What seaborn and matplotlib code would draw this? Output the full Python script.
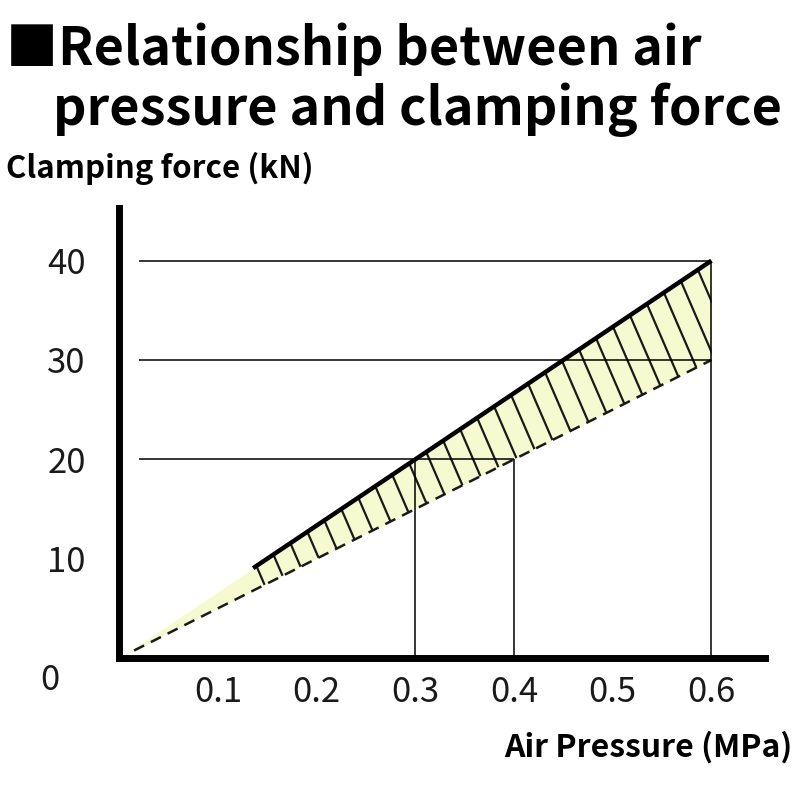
import numpy as np
import matplotlib
matplotlib.use("Agg")
import matplotlib.pyplot as plt
from matplotlib.collections import LineCollection
import seaborn as sns

# ---------------------------------------------
# data
# ---------------------------------------------
pressure = [0.0, 0.6]            # MPa
force_max = [0.0, 40.0]          # kN, upper edge of band
force_min = [0.0, 30.0]          # kN, lower edge of band
solid_from = 0.135               # upper line is drawn solid above this pressure

x_ticks = [0.1, 0.2, 0.3, 0.4, 0.5, 0.6]
x_labels = ["0.1", "0.2", "0.3", "0.4", "0.5", "0.6"]
y_ticks = [10, 20, 30, 40]
y_labels = ["10", "20", "30", "40"]

# guide lines: (value, start, end)
h_guides = [(40, 0.02, 0.6), (30, 0.02, 0.6), (20, 0.02, 0.4)]
v_guides = [(0.3, 0, 20), (0.4, 0, 20), (0.6, 0, 40)]

title_1 = "\u25a0Relationship between air"
title_2 = "pressure and clamping force"
y_title = "Clamping force (kN)"
x_title = "Air Pressure (MPa)"

FILL = "#f5fad0"

sns.set_theme(style="white")
plt.rcParams["font.family"] = ["Noto Sans CJK JP", "DejaVu Sans"]

fig = plt.figure(figsize=(8, 8), dpi=100)
ax = fig.add_axes([0.149, 0.1775, 0.807, 0.5625])

# band between min and max
xs = np.linspace(pressure[0], pressure[1], 200)
upper = np.interp(xs, pressure, force_max)
lower = np.interp(xs, pressure, force_min)
band = ax.fill_between(xs, lower, upper, color=FILL, lw=0, zorder=1)

# hatching only in the part with the solid line, clipped to the band
hatch_x = np.arange(solid_from + 0.004, 0.62, 0.0172)
slope = -230.0   # kN per MPa, steep strokes down to the right
segs = []
for hx in hatch_x:
    top = np.interp(hx, pressure, force_max)
    segs.append([(hx - 0.02, top - slope * 0.02), (hx + 0.08, top + slope * 0.08)])
lc = LineCollection(segs, colors="#1a1a1a", linewidths=1.6, zorder=2)
ax.add_collection(lc)
lc.set_clip_path(band.get_paths()[0], transform=ax.transData)

# lower edge dashed
sns.lineplot(x=xs[xs > 0.015], y=lower[xs > 0.015], ax=ax, color="#1a1a1a",
             lw=1.8, dashes=False, zorder=3).lines[-1].set_dashes((4.5, 3))

# upper edge solid and thick
mask = xs >= solid_from
ax.plot(xs[mask], upper[mask], color="black", lw=3.2, solid_capstyle="butt", zorder=4)

# guide lines
for val, a, b in h_guides:
    ax.hlines(val, a, b, color="black", lw=1.1, zorder=3)
for val, a, b in v_guides:
    ax.vlines(val, a, b, color="black", lw=1.1, zorder=3)

ax.set_xlim(0, 0.654)
ax.set_ylim(0, 45.3)
ax.set_xticks(x_ticks)
ax.set_xticklabels(x_labels)
ax.set_yticks(y_ticks)
ax.set_yticklabels(y_labels)
ax.tick_params(axis="both", direction="in", length=9, width=3.5, color="black",
               labelsize=25, labelcolor="#1a1a1a")
ax.tick_params(axis="x", pad=12)
ax.tick_params(axis="y", pad=24)
ax.grid(False)
for side in ["top", "right"]:
    ax.spines[side].set_visible(False)
for side in ["left", "bottom"]:
    ax.spines[side].set_linewidth(5)
    ax.spines[side].set_color("black")

ax.annotate("0", xy=(0, 0), xytext=(-50, -16), textcoords="offset points",
            ha="center", va="center", fontsize=25, color="#1a1a1a")

fig.text(0.008, 0.919, title_1, ha="left", va="baseline", fontsize=37.5,
         fontweight="bold", color="black")
fig.text(0.066, 0.844, title_2, ha="left", va="baseline", fontsize=37.5,
         fontweight="bold", color="black")
fig.text(0.008, 0.79, y_title, ha="left", va="center", fontsize=22.5,
         fontweight="bold", color="black")
fig.text(0.99, 0.066, x_title, ha="right", va="center", fontsize=23,
         fontweight="bold", color="black")

plt.savefig("out.png", dpi=100)
